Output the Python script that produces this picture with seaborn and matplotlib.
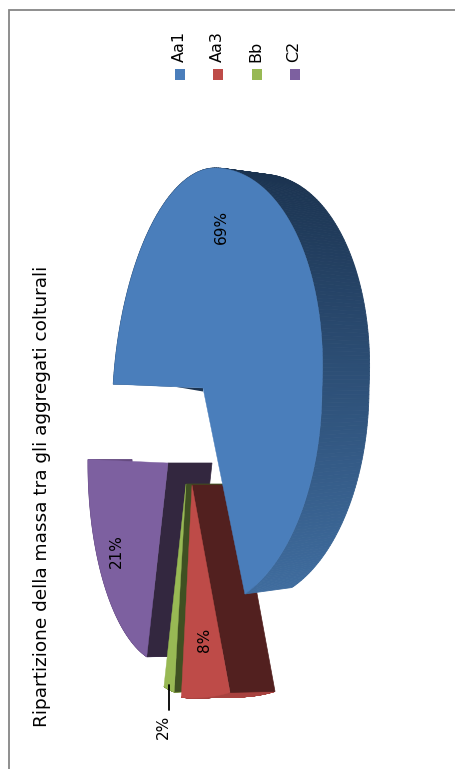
import numpy as np
import matplotlib
matplotlib.use("Agg")
import matplotlib.pyplot as plt
from matplotlib.colors import to_rgb
import seaborn as sns

categories = ["Aa1", "Aa3", "Bb", "C2"]
shares = [69, 8, 2, 21]
share_labels = ["69%", "8%", "2%", "21%"]
title = "Ripartizione della massa tra gli aggregati colturali"

face_colors = ["#4a7ebb", "#be4b48", "#98b954", "#7d60a0"]
side_colors = ["#1b3350", "#52201f", "#3f5022", "#33273f"]
rim_colors = ["#3f6c9e", "#a8423f", "#7f9a45", "#64497f"]
apex = [(203, 388), (192, 485), (186, 484), (168, 463)]
# radii: +u, -u, +v, -v
radii = [(119, 90, 220, 220), (108, 75, 212, 213), (83, 83, 210, 210), (80, 80, 201, 201)]
v_power = [1, 0.4, 1, 1]
shear = [12, 0, 0, 0]
depth = [47, 45, 45, 44]
back_scale = [0.97, 0.995, 0.995, 0.995]
label_xy = [(221, 227), (205, 640), (163, 727), (116, 551)]
legend_x = [180, 218, 257, 295]

sns.set_theme(style="white")
plt.rcParams["font.family"] = ["DejaVu Sans"]

fig = plt.figure(figsize=(4.56, 7.69), dpi=100)
ax = fig.add_axes([0, 0, 1, 1])
wedges, _ = ax.pie(shares, startangle=179, counterclock=False)
angles = [(w.theta1, w.theta2) for w in wedges]
for w in wedges:
    w.remove()
ax.set_aspect("auto")
ax.set_xlim(0, 456)
ax.set_ylim(769, 0)
ax.axis("off")


def warp(i, theta):
    t = np.radians(theta)
    u, v = np.cos(t), np.sin(t)
    rp, rn, tp, tn = radii[i]
    vv = np.sign(v) * np.abs(v) ** v_power[i]
    px = apex[i][0] + u * np.where(u > 0, rp, rn) + shear[i] * np.clip(v, 0, None)
    return px, apex[i][1] - vv * np.where(v > 0, tp, tn)


def back(i, x, y):
    cy = 380 if i == 0 else apex[i][1]
    return x + depth[i], cy + (np.asarray(y) - cy) * back_scale[i]


def draw(i, z):
    t1, t2 = angles[i]
    th = np.linspace(t1, t2, 240)
    x, y = warp(i, th)
    bx, by = back(i, x, y)
    # outer rim
    for k in range(len(th) - 1):
        if i == 0:
            f = np.clip((y[k] - 168) / (593 - 168), 0, 1)
            c = tuple((1 - f) * np.array(to_rgb(side_colors[0])) + f * np.array(to_rgb(rim_colors[0])))
        else:
            c = rim_colors[i]
        ax.fill([x[k], x[k + 1], bx[k + 1], bx[k]], [y[k], y[k + 1], by[k + 1], by[k]],
                color=c, lw=0.6, zorder=z)
    ax0, ay0 = apex[i]
    bax, bay = back(i, ax0, ay0)
    if i == 0:
        # thin sliver of the cut face below the gap
        ex, ey = warp(0, t2)
        ax.fill([ax0, ex, ex + 50, ax0], [ay0, ey, ey + 0.5, ay0 + 3.5],
                color=side_colors[0], lw=0, zorder=z + 0.1)
    else:
        # cut face at the wedge's leading edge
        ax.fill([ax0, x[-1], bx[-1], bax], [ay0, y[-1], by[-1], bay],
                color=side_colors[i], lw=0.5, zorder=z + 0.1)
    # top face
    ax.fill(np.r_[ax0, x], np.r_[ay0, y], color=face_colors[i], lw=0.3, zorder=z + 0.2)


for z, i in enumerate([3, 2, 1, 0]):
    draw(i, z + 1)

font = dict(color="black", rotation=90, ha="center", va="center", zorder=10)
for (x, y), s in zip(label_xy, share_labels):
    ax.text(x, y, s, fontsize=11, **font)
ax.plot([169, 169], [685, 710], color="black", lw=1.3, zorder=10)

ax.text(42, 496, title, fontsize=13.3, **font)

for x, c, name in zip(legend_x, face_colors, categories):
    ax.fill([x - 5, x + 5, x + 5, x - 5], [69, 69, 80, 80], color=c, lw=0, zorder=5)
    ax.text(x - 1, 62, name, fontsize=11.5, color="black", rotation=90, ha="center", va="bottom", zorder=10)

ax.plot([456, 9, 9], [9.5, 9.5, 769], color="#868686", lw=1.3, zorder=10, solid_joinstyle="miter")

fig.savefig("out.png", dpi=100)
